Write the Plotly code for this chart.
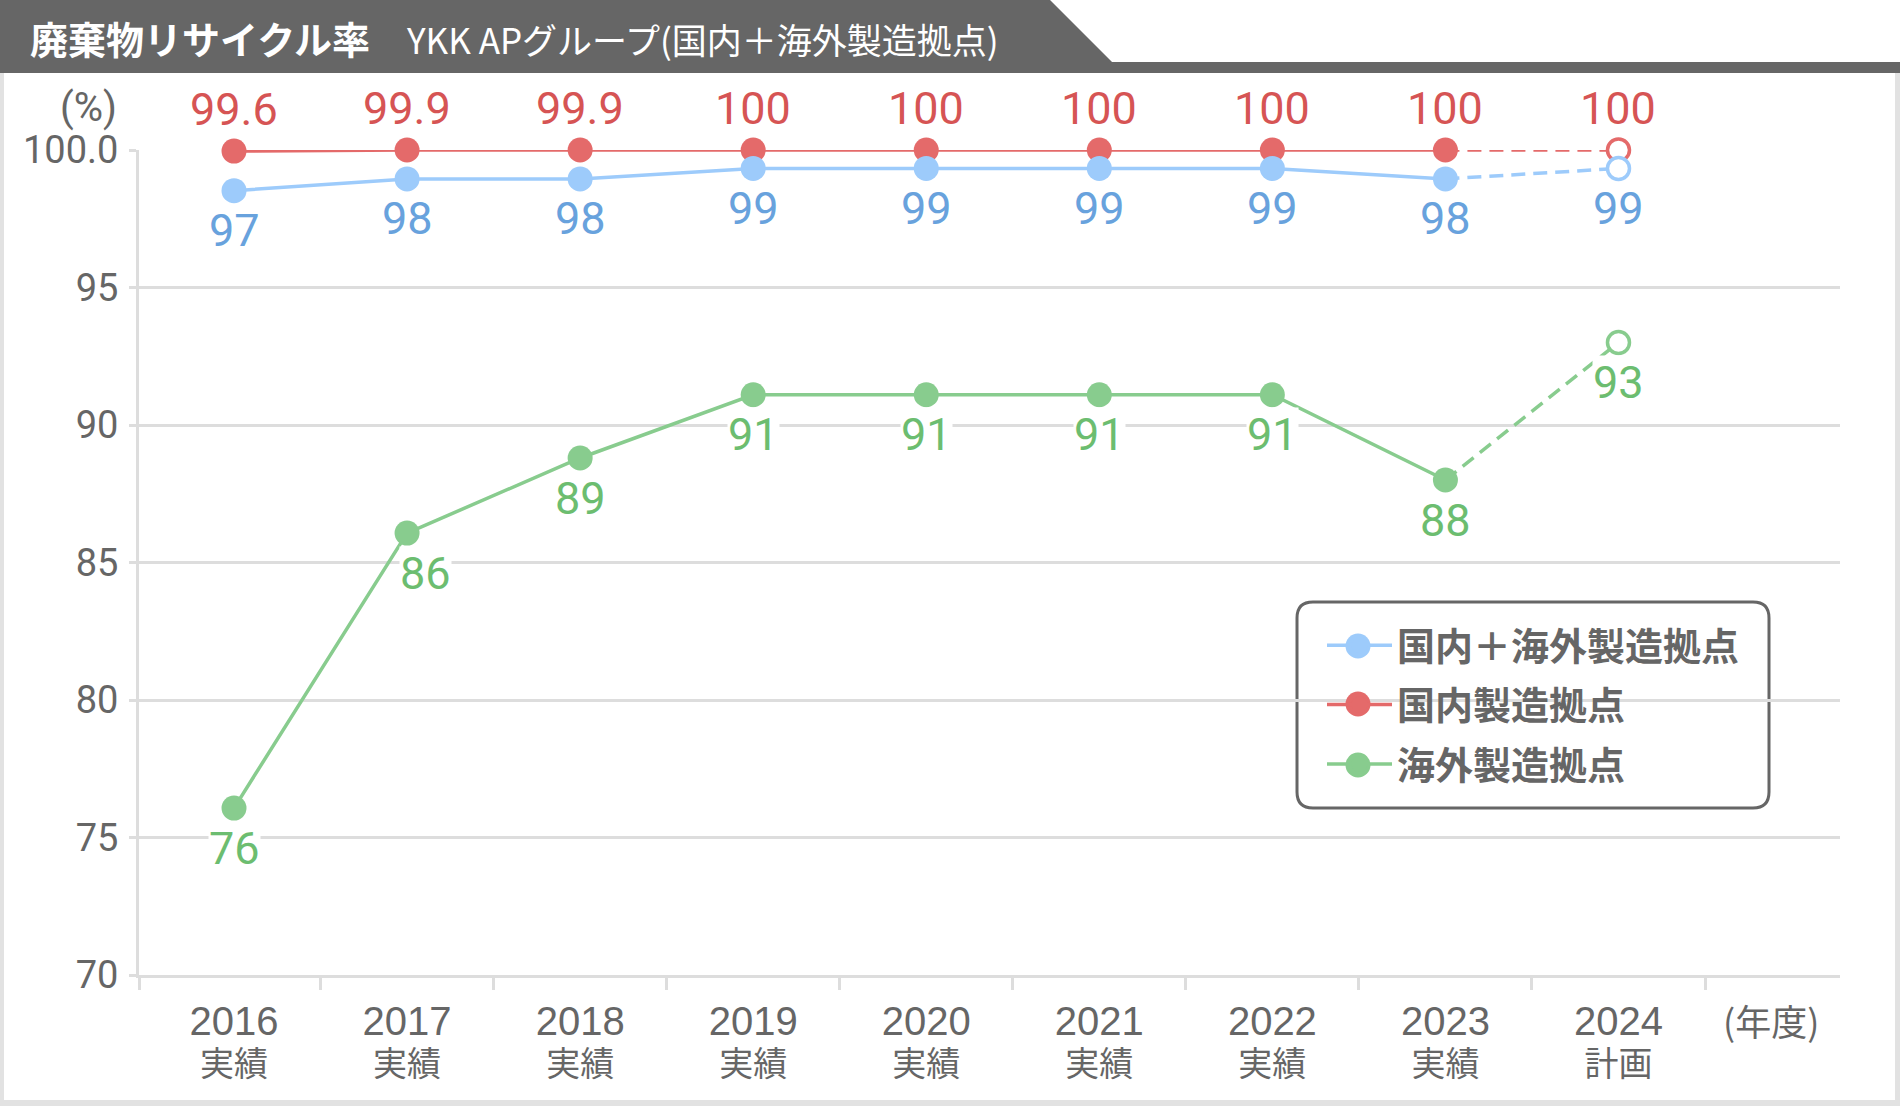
import plotly.graph_objects as go

# ---------------- data ----------------
years = ["2016", "2017", "2018", "2019", "2020", "2021", "2022", "2023", "2024"]
status = ["実績", "実績", "実績", "実績", "実績", "実績", "実績", "実績", "計画"]

series_names = ["国内＋海外製造拠点", "国内製造拠点", "海外製造拠点"]

total_vals = [98.52, 98.95, 98.95, 99.33, 99.33, 99.33, 99.33, 98.95, 99.33]
total_labels = ["97", "98", "98", "99", "99", "99", "99", "98", "99"]

domestic_vals = [99.96, 100.0, 100.0, 100.0, 100.0, 100.0, 100.0, 100.0, 100.0]
domestic_labels = ["99.6", "99.9", "99.9", "100", "100", "100", "100", "100", "100"]

overseas_vals = [76.07, 86.07, 88.8, 91.1, 91.1, 91.1, 91.1, 88.0, 93.0]
overseas_labels = ["76", "86", "89", "91", "91", "91", "91", "88", "93"]

y_ticks = [70, 75, 80, 85, 90, 95, 100]
y_tick_labels = ["70", "75", "80", "85", "90", "95", "100.0"]

title_main = "廃棄物リサイクル率"
title_sub = "YKK APグループ(国内＋海外製造拠点)"
unit_label = "(%)"
x_unit_label = "(年度)"

# ---------------- layout helpers ----------------
W, H = 1900, 1106
L, R, T, B = 139, 1840, 150, 975


def px(xp):
    return (xp - L) / (R - L)


def py(yp):
    return (B - yp) / (B - T)


xi = list(range(len(years)))
n_act = sum(1 for s in status if s == "実績")
X_MIN, X_MAX = -0.549, 9.28

GRAY = "#666666"
GRID = "#dddddd"
NUM_FONT = "Roboto, 'Noto Sans CJK JP', sans-serif"
CJK_FONT = "'Noto Sans CJK JP', sans-serif"
TICK_FONT = "'Liberation Sans', 'Noto Sans CJK JP', sans-serif"

styles = {
    "total": dict(line="#9dcbfb", text="#68a2dd", rank=1),
    "domestic": dict(line="#e46a6a", text="#d65454", rank=2),
    "overseas": dict(line="#88cc8e", text="#6cbd70", rank=3),
}
series = [
    ("overseas", series_names[2], overseas_vals, overseas_labels),
    ("domestic", series_names[1], domestic_vals, domestic_labels),
    ("total", series_names[0], total_vals, total_labels),
]

fig = go.Figure()

for key, name, vals, labels in series:
    st = styles[key]
    c = st["line"]
    # dashed plan segment
    fig.add_trace(go.Scatter(
        x=xi[n_act - 1:], y=vals[n_act - 1:], mode="lines",
        line=dict(color=c, width=3.5, dash="14px,8px"),
        showlegend=False, hoverinfo="skip", cliponaxis=False,
        legendgroup=key,
    ))
    # actual values
    fig.add_trace(go.Scatter(
        x=xi[:n_act], y=vals[:n_act], mode="lines+markers", name=name,
        line=dict(color=c, width=3.5),
        marker=dict(color=c, size=25),
        cliponaxis=False, legendgroup=key, legendrank=st["rank"],
    ))
    # plan marker (open)
    fig.add_trace(go.Scatter(
        x=xi[n_act:], y=vals[n_act:], mode="markers",
        marker=dict(color="white", size=22, line=dict(color=c, width=3.5)),
        showlegend=False, cliponaxis=False, legendgroup=key,
    ))

annotations = []
for key, name, vals, labels in series:
    st = styles[key]
    for i, (v, lab) in enumerate(zip(vals, labels)):
        ys = 42 if key == "domestic" else -40
        xs = 18 if (key == "overseas" and i == 1) else 0
        annotations.append(dict(
            x=xi[i], y=v, xref="x", yref="y", text=lab, showarrow=False,
            xshift=xs, yshift=ys, xanchor="center", yanchor="middle",
            font=dict(family=NUM_FONT, size=45, color=st["text"]),
            bgcolor="white" if key == "overseas" else "rgba(0,0,0,0)",
            borderpad=0,
        ))

annotations += [
    dict(x=px(1771), y=py(1020), xref="paper", yref="paper", text=x_unit_label,
         showarrow=False, xanchor="center", yanchor="middle",
         font=dict(family=CJK_FONT, size=36, color=GRAY)),
    dict(x=px(119), y=py(107), xref="paper", yref="paper", text=unit_label,
         showarrow=False, xanchor="right", yanchor="middle",
         font=dict(family=NUM_FONT, size=40, color=GRAY)),
    dict(x=px(28), y=py(37), xref="paper", yref="paper", text="<b>" + title_main + "</b>",
         showarrow=False, xanchor="left", yanchor="middle",
         font=dict(family=CJK_FONT, size=38, color="white")),
    dict(x=px(404), y=py(38), xref="paper", yref="paper", text=title_sub,
         showarrow=False, xanchor="left", yanchor="middle",
         font=dict(family=CJK_FONT, size=35, color="white")),
]

# x tick labels: year on first line, status on second
x_ticktext = [
    f"<span style='font-size:40px'>{y}</span><br><span style='font-size:34px'>{s}</span>"
    for y, s in zip(years, status)
]


def P(a, b):
    return f"{px(a):.5f},{py(b):.5f}"


# title band
band = [(0, 0), (1050, 0), (1112, 62), (1900, 62), (1900, 73), (0, 73)]
band_path = "M " + " L ".join(P(a, b) for a, b in band) + " Z"
# legend rounded box
x0, x1, y0, y1, r = 1297, 1769, 602, 808, 16
legend_path = (
    f"M {P(x0 + r, y0)} L {P(x1 - r, y0)} Q {P(x1, y0)} {P(x1, y0 + r)} "
    f"L {P(x1, y1 - r)} Q {P(x1, y1)} {P(x1 - r, y1)} "
    f"L {P(x0 + r, y1)} Q {P(x0, y1)} {P(x0, y1 - r)} "
    f"L {P(x0, y0 + r)} Q {P(x0, y0)} {P(x0 + r, y0)} Z"
)

shapes = [
    dict(type="path", xref="paper", yref="paper", path=band_path,
         fillcolor="#666666", line=dict(width=0), layer="above"),
    dict(type="rect", xref="paper", yref="paper", x0=px(0), x1=px(4), y0=py(73), y1=py(1106),
         fillcolor="#e2e2e2", line=dict(width=0), layer="below"),
    dict(type="rect", xref="paper", yref="paper", x0=px(1895), x1=px(1900), y0=py(73), y1=py(1106),
         fillcolor="#e2e2e2", line=dict(width=0), layer="below"),
    dict(type="rect", xref="paper", yref="paper", x0=px(0), x1=px(1900), y0=py(1100), y1=py(1106),
         fillcolor="#e2e2e2", line=dict(width=0), layer="below"),
    dict(type="path", xref="paper", yref="paper", path=legend_path,
         fillcolor="white", line=dict(color=GRAY, width=3), layer="between"),
]

# enlarge the legend symbols' dots (plotly caps legend markers at 16px)
legend_dot_x = 1358
legend_dot_rows = [("total", 646), ("domestic", 704), ("overseas", 765)]
for key, cy in legend_dot_rows:
    shapes.append(dict(
        type="circle", xref="paper", yref="paper",
        x0=px(legend_dot_x - 12.5), x1=px(legend_dot_x + 12.5),
        y0=py(cy + 12.5), y1=py(cy - 12.5),
        fillcolor=styles[key]["line"], line=dict(width=0), layer="above",
    ))

fig.update_layout(
    width=W, height=H, autosize=False,
    margin=dict(l=L, r=W - R, t=T, b=H - B, pad=0),
    paper_bgcolor="white", plot_bgcolor="white",
    showlegend=True,
    legend=dict(
        x=px(1322), y=py(614), xanchor="left", yanchor="top",
        bgcolor="rgba(0,0,0,0)", borderwidth=0,
        font=dict(family=CJK_FONT, size=38, color=GRAY, weight="bold"),
        traceorder="grouped", tracegroupgap=7, itemwidth=65,
    ),
    xaxis=dict(
        range=[X_MIN, X_MAX], tickmode="array", tickvals=xi, ticktext=x_ticktext,
        ticks="", showgrid=False, zeroline=False,
        showline=True, linecolor=GRID, linewidth=3,
        tickfont=dict(family=TICK_FONT, size=31, color=GRAY),
        ticklabelstandoff=20,
        minor=dict(tickmode="array", tickvals=[X_MIN] + [i + 0.5 for i in xi],
                   ticks="outside", ticklen=12, tickwidth=3, tickcolor=GRID, showgrid=False),
    ),
    yaxis=dict(
        range=[70, 100], tickmode="array", tickvals=y_ticks, ticktext=y_tick_labels,
        showgrid=True, gridcolor=GRID, gridwidth=3, zeroline=False,
        ticks="outside", ticklen=7, tickwidth=3, tickcolor=GRID,
        showline=True, linecolor=GRID, linewidth=3,
        tickfont=dict(family=NUM_FONT, size=38, color=GRAY),
        ticklabelstandoff=3,
    ),
    annotations=annotations,
    shapes=shapes,
)

fig.write_html("out.html", config={"displayModeBar": False},
               post_script="document.body.style.margin='0px';")
